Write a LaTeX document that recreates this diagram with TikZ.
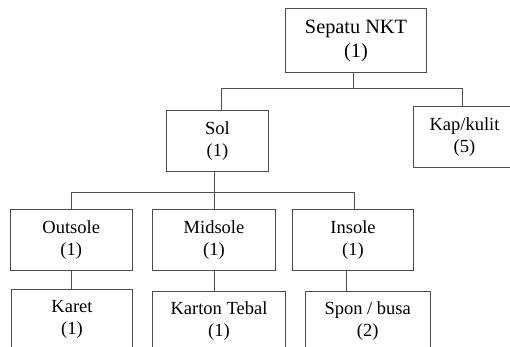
\documentclass[tikz,border=0pt]{standalone}
\usepackage{fontspec}
\setmainfont{Liberation Serif}
\begin{document}
\begin{tikzpicture}[x=1pt,y=-1pt,
  box/.style={draw=black!70, line width=1pt, inner sep=0pt, align=center,
    font=\fontsize{18.5}{22}\selectfont},
  conn/.style={draw=black!70, line width=1pt}]
\useasboundingbox (0,0) rectangle (510,347);
\clip (0,0) rectangle (510,347);
\node[box, minimum width=140.6pt, minimum height=63.6pt, font=\fontsize{20.3}{24}\selectfont] (top) at (356,40.5) {Sepatu NKT\\(1)};
\node[box, minimum width=101.6pt, minimum height=61.4pt] (sol) at (217.5,141) {Sol\\(1)};
\node[box, minimum width=102.4pt, minimum height=61pt] (kap) at (464.5,137.2) {Kap/kulit\\(5)};
\node[box, minimum width=122.3pt, minimum height=60.7pt] (outsole) at (71.2,239.7) {Outsole\\(1)};
\node[box, minimum width=122.6pt, minimum height=60.7pt] (midsole) at (214,240.3) {Midsole\\(1)};
\node[box, minimum width=120.6pt, minimum height=60.7pt] (insole) at (353,239.7) {Insole\\(1)};
\node[box, minimum width=120.6pt, minimum height=60pt] (karet) at (72,319.3) {Karet\\(1)};
\node[box, minimum width=132.6pt, minimum height=60pt] (karton) at (219,321) {Karton Tebal\\(1)};
\node[box, minimum width=124.7pt, minimum height=60pt] (spon) at (367.7,321) {Spon / busa\\(2)};
% level 1
\draw[conn] ([xshift=-3pt]top.south) -- ++(0,16.7);
\draw[conn] ([xshift=3.5pt]sol.north) -- ++(0,-21.3) -| ([xshift=-2.5pt]kap.north);
% level 2
\draw[conn] ([xshift=-3.5pt]sol.south) -- (midsole.north);
\draw[conn] (outsole.north) -- ++(0,-16) -| ([xshift=1.3pt]insole.north);
% level 3
\draw[conn] ([xshift=0.5pt]outsole.south) -- ++(0,19.6);
\draw[conn] ([xshift=0.7pt]midsole.south) -- ++(0,20.4);
\draw[conn] ([xshift=-7pt]insole.south) -- ++(0,21.3);
\end{tikzpicture}
\end{document}
